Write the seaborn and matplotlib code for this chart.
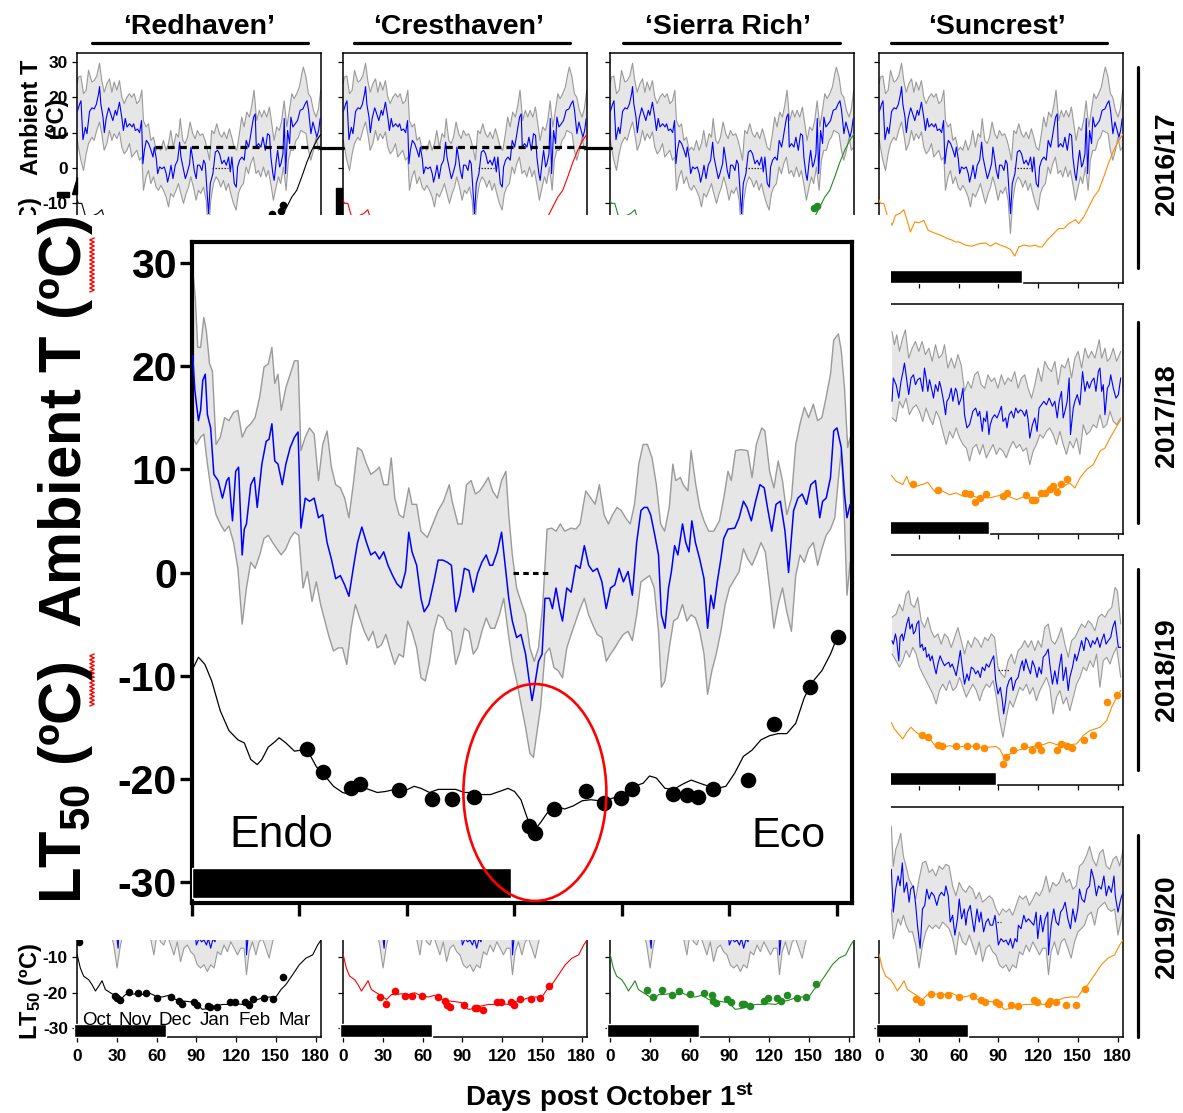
import numpy as np
import pandas as pd
import matplotlib
matplotlib.use("Agg")
import matplotlib.pyplot as plt
import seaborn as sns
from matplotlib.patches import Rectangle, Ellipse, Polygon
from matplotlib.lines import Line2D

# ============================ DATA ============================
# ---- 2016/17 ambient temperature (same site for all cultivars) ----
T16_MEAN_DAY = [0.3, 1.9, 3.0, 4.5, 6.3, 7.5, 9.5, 11.3, 13.0, 14.6, 16.3,
                17.0, 18.0, 19.6, 20.6, 22.0, 23.9, 25.0, 27.0, 28.9, 30.0,
                32.0, 33.9, 35.0, 36.4, 37.7, 39.7, 41.5, 42.7, 44.0, 45.7,
                47.2, 48.7, 49.7, 50.8, 52.3, 54.0, 55.8, 57.3, 58.3, 59.8,
                60.8, 62.3, 64.0, 65.8, 67.3, 68.3, 69.8, 70.9, 72.4, 74.1,
                75.9, 77.4, 78.4, 79.9, 81.7, 82.9, 84.9, 85.9, 87.4, 88.4,
                89.9, 90.9, 92.5, 94.2, 95.5, 96.7, 98.0, 99.2, 100.5, 102.5,
                104.3, 106.0, 107.5, 109.3, 111.0, 112.6, 114.3, 115.6, 116.8, 118.6,
                120.1, 121.1, 122.6, 124.4, 126.1, 127.6, 129.4, 130.7, 131.9, 133.2,
                134.4, 135.2, 136.9, 138.7, 140.2, 142.0, 143.7, 145.2, 146.2, 147.7,
                148.7, 150.3, 151.3, 152.8, 153.8, 155.3, 156.3, 157.3, 158.8, 160.3,
                161.3, 162.8, 164.6, 166.3, 168.3, 170.4, 172.1, 173.4, 174.6, 176.4,
                177.9, 179.6, 180.9, 182.2, 183.4]
T16_MEAN = [16, 18, 19, 8, 11.5, 9.7, 16, 17, 16.7, 18, 21,
            23, 18, 14.4, 10, 14, 17, 15.8, 13.4, 16.3, 14.9,
            18.6, 14, 10.6, 14, 11.6, 12.5, 11.6, 12.5, 10.6, 11,
            10, 13.4, 1.2, 5, 7.8, 6.9, 5, 3.1, 5.9, 2.6,
            -1.6, 0.3, -0.2, 0.3, -1.6, -4, -1.6, 0.8, -3, 0.8,
            2.2, 7.3, 3.1, 0.3, -3, -1.6, 1.2, 5.9, 2.2, -0.7,
            -3, 0.8, 0.8, -0.7, 2.2, 1.2, -6.3, -12.9, -4.4, -1.6,
            4.5, 5, 4, 1.2, 2.2, 0.8, 3.1, -1.1, 3.1, -4.4,
            -5.4, 0.3, 2.2, 3.1, 2.2, 7.8, 5.9, 8.7, 11.6, 14.4,
            15.3, 5.9, 6.9, 5.9, 8.7, 5, 9.7, 9.2, 3.1, -1.6,
            -3.5, 2.2, 5, 0.3, 1.2, 4, 14, -1.6, 10.6, 6.9,
            14.4, 11.6, 12.5, 13.4, 16.3, 16.7, 18.2, 19, 16.3, 9.7,
            13, 10.6, 8.7, 10.6, 14]
T16_UP_DAY = [0.2, 1.1, 2.9, 4.9, 6.9, 8.7, 11.2, 12.9, 14.9, 17.0, 18.7,
              20.5, 22.5, 24.5, 26.3, 28.0, 30.0, 32.0, 33.8, 35.6, 37.6,
              39.6, 41.3, 43.1, 45.1, 47.1, 48.9, 50.1, 52.1, 53.9, 55.7,
              57.7, 59.7, 61.4, 63.2, 65.2, 67.2, 69.0, 70.7, 72.7, 74.7,
              76.5, 77.8, 79.8, 81.5, 83.3, 85.3, 87.3, 89.1, 90.8, 92.8,
              94.8, 96.6, 98.4, 99.9, 101.6, 103.4, 105.4, 107.4, 109.2, 110.9,
              112.9, 114.9, 116.7, 118.5, 120.5, 122.5, 124.2, 126.0, 128.0, 130.0,
              131.8, 133.5, 135.5, 137.5, 139.3, 141.1, 143.1, 145.1, 146.9, 148.6,
              150.6, 152.6, 154.4, 156.2, 158.2, 160.2, 162.0, 163.7, 165.7, 167.7,
              169.5, 170.7, 172.7, 174.5, 176.3, 178.3, 180.3, 182.0, 183.8]
T16_UP = [24, 25.7, 26, 21, 22, 27.6, 24.3, 24.7, 26, 29.6, 24.7,
          21.4, 23.8, 25.2, 21.4, 24.3, 22, 24.7, 20, 18.2, 20,
          21, 20, 21, 18.2, 19, 22, 13.4, 11.6, 12.5, 7.8,
          8.7, 5, 5.9, 5, 7.8, 5, 6.9, 10.6, 5.9, 9.7,
          8.7, 14, 7.8, 6.9, 8.7, 13, 9.7, 8.3, 10.6, 9.2,
          9.7, 7.8, 5, 2.2, 10.6, 9.7, 12.5, 9.7, 8.7, 10.2,
          8.3, 11.1, 8.7, 5.9, 5, 9.7, 14.4, 11.6, 15.8, 14.4,
          17.7, 22, 13.4, 16.3, 14.4, 16.3, 14.4, 17.2, 12.5, 7.8,
          11.6, 10.6, 13.4, 19, 11.6, 16.3, 21, 19.6, 21, 22.9,
          26.6, 28.5, 25.7, 21, 20, 16.3, 14.4, 16.7, 22]
T16_LO_DAY = [0.2, 1.1, 2.9, 4.9, 6.9, 8.7, 11.2, 12.9, 14.9, 17.0, 18.7,
              20.5, 22.5, 24.5, 26.3, 28.0, 30.0, 32.0, 33.8, 35.6, 37.6,
              39.6, 41.3, 43.1, 45.1, 47.1, 48.9, 50.1, 52.1, 53.9, 55.7,
              57.7, 59.7, 61.4, 63.2, 65.2, 67.2, 69.0, 70.7, 72.7, 74.7,
              76.5, 78.3, 80.3, 82.3, 84.1, 85.8, 87.8, 89.8, 91.6, 93.3,
              95.4, 97.4, 99.1, 100.9, 102.9, 104.9, 106.7, 108.4, 110.4, 112.4,
              114.2, 115.9, 118.0, 120.0, 121.7, 123.5, 125.5, 127.5, 129.3, 131.0,
              133.0, 135.0, 136.8, 138.6, 140.6, 142.6, 144.3, 146.1, 148.1, 150.1,
              151.9, 153.6, 155.7, 157.7, 159.4, 161.2, 163.2, 165.2, 167.0, 168.7,
              170.7, 172.7, 174.5, 176.3, 178.3, 180.3, 182.0, 183.8]
T16_LO = [8, 5.9, 2.2, -0.7, 4, 6.9, 8.7, 7.8, 10.6, 13, 9.7,
          5, 6.9, 10.6, 7.8, 9.7, 8.3, 10.2, 5.9, 4, 5,
          6.9, 3.1, 4, 5, 2.2, 3.1, -6.3, -2.5, -0.7, -4.4,
          -2.5, -5.4, -6.3, -4.9, -6.3, -8.2, -11, -7.2, -8.2, -6.3,
          -4.4, -7.2, -10, -7.2, -5.4, -2.5, -5.4, -9.1, -6.3, -7.2,
          -5.4, -9.1, -18.5, -9.1, -4.4, -2.5, -3.5, -5.4, -3.5, -6.3,
          -4.4, -7.2, -10, -11.9, -7.2, -5.4, -4.4, 0.3, -1.6, 1.2,
          3.1, -1.6, -0.7, -2.5, 0.3, -2.5, -0.7, -4.4, -9.1, -5.4,
          -2.5, -4.4, 0.3, -6.3, 2.2, 5, 5, 7.8, 8.7, 10.6,
          10.2, 9.7, 5, 2.2, 5, 8.7, 5, 5.9]

# ---- 2017/18 ambient temperature ----
T17_MEAN_DAY = [9.8, 10.8, 12.9, 14.9, 16.6, 17.9, 19.2, 20.4, 22.4, 24.2,
                26.0, 27.5, 29.2, 31.0, 33.0, 34.3, 35.5, 36.8, 38.1, 40.1,
                41.1, 42.6, 44.4, 45.6, 46.9, 48.7, 50.2, 51.2, 52.7, 54.5,
                55.7, 57.7, 58.7, 60.2, 62.0, 63.3, 64.5, 66.3, 68.3, 69.6,
                70.8, 72.9, 74.6, 75.9, 77.9, 78.9, 80.4, 81.4, 82.9, 83.9,
                85.5, 87.2, 89.0, 90.5, 92.3, 93.5, 95.5, 96.5, 98.1, 99.8,
                101.6, 103.1, 104.9, 106.6, 108.1, 109.9, 111.2, 112.4, 113.7, 115.7,
                117.5, 119.2, 120.7, 122.5, 124.3, 126.3, 128.3, 129.3, 130.8, 132.6,
                134.4, 135.9, 137.6, 138.9, 140.2, 141.9, 143.4, 144.4, 146.5, 147.7,
                149.5, 151.5, 153.5, 155.3, 157.0, 158.6, 160.3, 162.1, 163.6, 165.4,
                166.6, 167.9, 169.1, 170.4, 172.2, 173.7, 174.7, 176.7, 178.7, 180.5,
                182.3]
T17_MEAN = [5, 11.6, 9.7, 5.9, 10.6, 13, 15.8, 12.5, 6.9, 11.6,
            12.5, 9.7, 11.1, 11.6, 7.8, 14.4, 11.6, 7.8, 11.1, 7.8,
            5.9, 9.7, 7.8, 10.6, 8.7, 5, 1.2, 5, 5.9, 8.7,
            5, 8.7, 7.8, 4, 5.9, 8.7, 1.2, -2.5, -1.6, 0.3,
            2.2, 3.1, 0.8, 2.2, -3.5, 0.3, -0.7, 2.2, -4.4, -1.6,
            0.3, 1.2, 0.3, 1.7, 3.6, -0.7, 0.3, -2.5, 1.2, 2.2,
            0.3, 3.1, 1.7, 2.6, 2.2, 0.8, 2.6, -0.2, -5.4, -1.6,
            0.3, -3.5, 3.1, 4, 5, 4, 5.9, 5, 3.6, 5,
            0.3, 5, 7.8, 0.3, 2.2, 5, 11.6, -4.4, 3.1, 5,
            6.9, 4, 13.4, 7.8, 10.6, 8.7, 10.6, 11.6, 7.8, 13.4,
            14.4, 7.8, 9.7, 1.2, 8.7, 9.7, 12.5, 8.7, 5.9, 6.9,
            11.6]
T17_UP_DAY = [9.8, 11.6, 13.4, 15.4, 17.9, 19.9, 22.4, 25.0, 27.5, 30.0,
              32.5, 35.0, 37.6, 40.1, 42.6, 45.1, 47.6, 49.4, 51.9, 54.5,
              57.0, 59.5, 62.0, 64.5, 67.1, 69.6, 72.1, 74.6, 77.1, 79.7,
              82.2, 84.7, 87.2, 89.7, 92.3, 94.8, 97.3, 99.8, 102.3, 104.9,
              107.4, 109.9, 112.4, 115.0, 117.5, 120.0, 122.5, 125.0, 127.6, 130.1,
              132.6, 135.1, 137.6, 140.2, 142.7, 145.2, 147.7, 150.2, 152.8, 155.3,
              157.8, 160.3, 162.8, 166.1, 167.9, 170.4, 172.2, 174.2, 176.7, 179.2,
              182.3]
T17_UP = [24.7, 21, 23.8, 19.1, 22.9, 25.2, 17.2, 20, 21.9, 19.1,
          21.9, 18.2, 20, 16.3, 21, 17.2, 18.2, 21, 14.4, 17.2,
          14.4, 18.2, 15.3, 7.8, 10.6, 8.7, 12.5, 13.4, 9.7, 8.7,
          12.5, 10.6, 11.6, 8.7, 12.5, 9.7, 11.6, 10.6, 13.4, 8.7,
          11.6, 12.5, 8.7, 5.9, 9.7, 14.4, 10.6, 16.3, 14.4, 13.4,
          16.3, 9.7, 15.3, 14.4, 17.2, 11.6, 17.2, 19.1, 14.4, 20,
          17.2, 19.1, 17.2, 22.4, 17.2, 20, 16.3, 17.2, 20, 16.3,
          19.1]
# shared day grid of the 2017/18 and 2018/19 lower envelopes
REG_DAY = [9.8, 12.9, 15.4, 17.9, 20.4, 22.9, 25.5, 28.0, 30.5, 33.0,
           35.5, 38.1, 40.6, 43.1, 45.6, 48.1, 50.7, 53.2, 55.7, 58.2,
           60.8, 63.3, 65.8, 68.3, 70.8, 73.4, 75.9, 78.4, 80.9, 83.4,
           86.0, 88.5, 91.0, 93.5, 96.0, 98.6, 101.1, 103.6, 106.1, 108.6,
           111.2, 113.7, 116.2, 118.7, 121.3, 123.8, 126.3, 128.8, 131.3, 133.9,
           136.4, 138.9, 141.4, 143.9, 146.5, 149.0, 151.5, 154.0, 156.5, 159.1,
           161.6, 164.1, 166.6, 169.1, 171.7, 174.2, 176.7, 179.2, 182.3]
T17_LO = [0.3, -0.7, 5, 3.1, 5.9, 1.2, 3.1, 4, 2.2, -0.7,
          3.1, 0.3, -1.6, 2.2, 0.3, -3.5, -7.2, -3.5, -5.4, -2.5,
          -5.4, -7.2, -8.2, -11.9, -8.2, -7.2, -10, -7.2, -11, -9.1,
          -7.2, -10, -8.2, -9.1, -11, -8.2, -6.3, -8.2, -7.2, -9.1,
          -8.2, -12.9, -9.1, -7.2, -4.4, -5.4, -3.5, -2.5, -4.4, -7.2,
          -3.5, -7.2, -10, -6.3, -8.2, -5.4, -10, -1.6, -4.4, -3.5,
          -1.6, -2.5, 1.2, -2.5, -1.6, 2.2, -0.7, -1.6, 0.3]

# ---- 2018/19 ambient temperature ----
T18_MEAN_DAY = [9.8, 10.8, 12.4, 13.4, 14.9, 15.9, 17.4, 18.4, 19.9, 20.9,
                22.4, 23.4, 25.0, 26.0, 27.5, 28.5, 30.0, 31.0, 32.5, 33.5,
                35.0, 36.0, 37.6, 38.6, 40.1, 41.8, 43.1, 44.4, 46.1, 47.6,
                49.4, 50.7, 52.7, 53.7, 55.2, 57.0, 58.2, 59.5, 61.3, 62.8,
                64.5, 66.3, 67.8, 69.6, 71.3, 72.9, 74.6, 76.4, 77.9, 79.7,
                80.9, 82.9, 84.7, 86.5, 88.0, 89.7, 91.5, 93.0, 94.0, 95.5,
                96.5, 98.1, 99.8, 101.1, 103.1, 104.9, 106.6, 108.1, 109.2, 110.7,
                112.4, 114.2, 115.7, 117.5, 119.2, 120.7, 122.5, 123.8, 125.8, 127.6,
                128.8, 130.8, 132.6, 134.4, 135.9, 137.6, 138.9, 140.9, 142.7, 143.9,
                145.9, 147.7, 149.0, 151.0, 152.8, 154.5, 156.0, 157.8, 159.6, 161.1,
                162.8, 164.6, 166.6, 167.9, 169.7, 171.2, 172.9, 174.7, 176.2, 178.0,
                179.2, 180.5, 182.3]
T18_MEAN = [8.3, 7.3, 10.2, 8.3, 2.6, 9.2, 10.2, 8.3, 11.1, 13,
            14.9, 11.6, 13, 10.2, 11.1, 13, 13.9, 6.4, 7.3, 5.5,
            6.4, 3.6, 4.5, 2.6, 4, 0.8, -1.1, 1.7, 4, 2.6,
            1.2, 1.7, 2.2, 0.8, 1.7, -0.2, -1.6, 1.2, 5.5, 0.8,
            -4, -1.1, -3, 0.8, 0.3, -1.1, -0.2, -2.1, 0.8, -0.2,
            1.7, 0.8, 2.6, 4, -3, -6.8, -4.9, -8.7, -12.4, -8.7,
            -4.9, -3, -2.1, -5.8, -3, -2.1, 0.8, 2.6, -0.2, 3.1,
            0.8, -1.1, 2.6, 0.8, -2.1, 0.8, -1.1, 3.6, 4.5, 5.9,
            1.7, -4, -0.2, -4, 0.8, 4.5, -3, 0.8, -5.8, -2.1,
            0.8, 4.5, 2.6, 5.5, 8.3, 5.5, 9.2, 8.3, 6.4, 8.3,
            7.3, 9.2, 6.4, 8.3, 10.2, 7.3, 8.3, 9.2, 12, 13.9,
            10.2, 6.4, 6.4]
T18_UP_DAY = [9.8, 12.9, 15.4, 17.9, 20.4, 22.4, 24.2, 26.7, 29.2, 31.8,
              34.3, 36.8, 39.3, 41.8, 44.4, 46.9, 49.4, 51.9, 54.5, 57.0,
              59.5, 62.0, 64.5, 67.1, 69.6, 72.1, 74.6, 77.1, 79.7, 82.2,
              84.7, 87.2, 89.7, 92.3, 94.8, 97.3, 99.8, 102.3, 104.9, 107.4,
              109.9, 112.4, 115.0, 117.5, 120.0, 122.5, 125.0, 127.6, 130.1, 132.6,
              135.1, 137.6, 140.2, 142.7, 145.2, 147.7, 150.2, 152.8, 155.3, 157.8,
              160.3, 162.8, 165.4, 167.9, 170.4, 172.9, 175.5, 178.0, 179.8, 182.3]
T18_UP = [14.9, 15.8, 18.6, 16.7, 21.4, 22.4, 18.6, 17.7, 20.5, 13.9,
          12, 14.9, 11.1, 9.2, 10.2, 7.3, 10.2, 9.2, 6.4, 9.2,
          12, 8.3, 4.5, 8.3, 6.4, 9.2, 8.3, 6.4, 9.2, 8.3,
          10.2, 9.2, 0.8, -1.1, -2.1, 2.6, 4.5, 1.7, 5.5, 6.4,
          8.3, 6.4, 8.3, 5.5, 8.3, 6.4, 12, 13, 8.3, 7.3,
          9.2, 12, 7.3, 3.6, 8.3, 9.2, 11.1, 13, 12, 13.9,
          13, 11.1, 14.9, 15.8, 14.9, 16.7, 17.7, 23.3, 22.4, 13]
T18_LO = [4.5, 2.6, 0.8, 2.6, 5.5, 3.6, 6.4, 4.5, 0.8, -1.1,
          -3, -4.9, -6.8, -9.6, -5.8, -4, -5.8, -3, -5.8, -4.9,
          -2.1, -4.9, -7.7, -5.8, -4, -5.8, -8.7, -5.8, -4, -4.9,
          -3, -7.7, -14.3, -19, -13.4, -8.7, -10.5, -7.7, -4.9, -5.8,
          -4, -6.8, -4.9, -8.7, -5.8, -4, -2.1, -4.9, -12.4, -7.7,
          -5.8, -9.6, -7.7, -11.5, -7.7, -4, -2.1, 0.8, -0.2, 2.6,
          0.8, 4.5, -4.9, 2.6, 3.6, 1.7, 4.5, 6.4, -2.1]

# ---- 2019/20 ambient temperature ----
T19_MEAN_DAY = [9.3, 10.8, 12.6, 14.4, 15.9, 17.6, 18.9, 20.9, 22.7, 23.9,
                26.0, 27.7, 29.0, 31.0, 32.8, 34.5, 36.0, 37.8, 39.6, 41.6,
                43.6, 45.4, 47.1, 49.2, 50.4, 52.2, 53.7, 55.5, 57.2, 59.2,
                60.5, 62.3, 64.3, 65.5, 66.8, 68.8, 70.6, 71.8, 73.9, 75.6,
                76.9, 78.9, 80.7, 82.4, 83.9, 85.7, 87.5, 89.0, 90.0, 92.0,
                94.0, 95.8, 97.6, 99.1, 100.8, 102.6, 104.1, 105.1, 107.1, 109.2,
                110.9, 112.7, 114.7, 116.7, 118.5, 119.7, 121.8, 123.5, 125.3, 127.3,
                127.8, 129.8, 131.8, 133.6, 135.4, 136.9, 138.6, 140.4, 142.4, 144.4,
                146.2, 148.0, 149.9, 151.2, 152.9, 154.9, 156.8, 158.8, 160.1, 162.1,
                163.9, 165.6, 167.6, 169.6, 171.4, 173.2, 175.2, 177.2, 178.2, 180.2,
                182.3, 184.0]
T19_MEAN = [14.9, 2.8, 9.3, 13, 10.2, 16.7, 8.4, 11.2, 5.6, 9.3,
            10.2, 4.7, -0.9, -7.4, 3.7, 4.7, 9.3, 6.5, 8.4, 7.4,
            4.7, 7.4, 8.4, 7.4, 10.2, 7.4, 0, 1.9, -3.7, 0.9,
            6.5, 0.9, 3.7, -0.9, 2.8, 4.7, 0, -2.8, 3.7, 0,
            2.8, -2.8, 0, 0.9, -0.9, -0.9, 1.9, -2.8, -6.5, -4.7,
            -5.6, -5.1, -6.5, -4.7, -7.4, -4.7, -5.6, -0.9, -1.9, 1.9,
            0, 0.9, 0, -0.9, 2.8, -4.7, 1.9, -2.8, 0.9, 2.8,
            -9.3, -0.9, 3.7, 0, -0.9, 2.8, 3.7, 5.6, 0.9, -1.9,
            3.7, 0, 3.7, 9.3, 6.5, 5.6, 9.3, 10.2, 14.9, 12.1,
            7.4, 10.2, 9.3, 13, 7.4, 10.2, 8.4, 13, 7.4, 2.8,
            6.5, 8.4]
T19_UP_DAY = [9.3, 10.8, 12.6, 14.4, 16.4, 18.4, 20.4, 22.7,
              25.2, 27.7, 30.2, 32.8, 35.3, 37.8, 40.3, 42.9, 45.4, 47.9,
              50.4, 52.9, 55.5, 58.0, 60.5, 63.0, 65.5, 68.1, 70.6, 73.1,
              75.6, 78.1, 80.7, 83.2, 85.7, 88.2, 90.7, 93.3, 95.8, 98.3,
              100.8, 103.4, 105.9, 108.4, 110.9, 113.4, 116.0, 118.5, 121.0, 123.5,
              126.0, 128.6, 131.1, 133.6, 136.1, 138.6, 141.2, 143.7, 146.2, 148.7,
              151.2, 153.8, 156.3, 158.8, 161.3, 163.9, 166.4, 168.9, 171.4, 173.9,
              176.5, 179.0, 181.5, 184.0]
T19_UP = [27, 15.8, 20.5, 22.3, 25.1, 18.6, 15.8, 12.1,
          10.2, 6.5, 12.1, 16.7, 17.2, 14, 14.9, 13, 15.8, 14.9,
          16.3, 15.8, 10.2, 7.4, 11.2, 9.3, 8.4, 10.2, 9.3, 6.5,
          8.4, 5.6, 6.5, 7.4, 6.5, 3.7, 1.9, 3.7, 2.8, 3.7,
          1.9, 4.7, 7.4, 6.5, 7.4, 4.7, 6.5, 8.4, 7.4, 9.3,
          13, 8.4, 11.2, 10.2, 11.2, 14, 11.2, 12.1, 9.3, 10.2,
          15.8, 16.7, 18.6, 21.4, 17.7, 15.8, 19.5, 20.5, 15.8, 14.9,
          17.7, 18.6, 15.8, 20.5]
T19_LO_DAY = [9.3, 10.8, 12.6, 14.4, 16.4, 18.4, 20.4, 22.7,
              25.2, 27.7, 30.2, 32.8, 35.3, 37.8, 40.3, 42.9, 45.4, 47.9,
              50.4, 52.9, 55.5, 58.0, 60.5, 63.0, 65.5, 68.1, 70.6, 73.1,
              75.6, 78.1, 80.7, 83.2, 85.7, 88.2, 90.7, 93.3, 95.8, 98.3,
              100.8, 103.4, 105.9, 108.4, 110.9, 113.4, 116.0, 118.5, 121.0, 123.5,
              126.0, 127.8, 129.8, 132.3, 134.9, 137.4, 139.9, 142.4, 144.9, 147.5,
              150.0, 152.5, 155.0, 157.5, 160.1, 162.6, 165.1, 167.6, 170.2, 172.7,
              175.2, 177.7, 180.2, 182.8, 184.0]
T19_LO = [3.7, -4.7, -1.9, 0.9, -0.9, 1.9, -0.9, -2.8,
          -2.8, -6.5, -13, -6.5, -2.8, -0.9, -1.9, -0.9, -1.9, 0,
          -0.9, -1.9, -4.7, -9.3, -2.8, -5.6, -6.5, -3.7, -6.5, -9.3,
          -5.6, -11.2, -7.4, -6.5, -8.4, -9.3, -12.1, -13, -12.1, -14,
          -12.1, -13, -8.4, -9.3, -6.5, -8.4, -5.6, -7.4, -9.3, -7.4,
          -7.4, -14.9, -8.4, -5.6, -9.3, -5.6, -4.7, -7.4, -10.2, -5.6,
          -2.8, -1.9, -0.9, 1.9, 2.8, -0.9, 3.7, 4.7, 5.6, 3.7,
          3, 3.7, -3.7, 0.9, 2.8]

# ---- LT50 model lines (one per season, shared by the cultivars) ----
LT16_DAY = [0, 1.1, 3.6, 6.2, 9.9, 12.4, 15.5, 18.7, 21.2, 23.7,
            27.0, 30.0, 33.8, 37.1, 41.3, 46.4, 51.4, 55.2, 57.7, 60.2,
            65.2, 70.2, 75.3, 80.3, 84.1, 87.8, 91.6, 95.4, 99.1, 102.4,
            105.4, 109.2, 114.2, 118.0, 120.5, 123.0, 126.8, 131.8, 135.5, 139.3,
            143.1, 148.1, 150.6, 154.4, 158.2, 162.0, 165.7, 169.5, 173.2, 177.0,
            180.8, 183.8]
LT16 = [-9, -10, -10, -13.4, -16.2, -13.4, -12.9, -11.8, -14.8, -18.1,
        -15.2, -15.5, -14.8, -17.6, -18.3, -19, -19.9, -20.4, -20.9, -20.9,
        -21.8, -22.1, -21.4, -21.2, -22.1, -21.2, -21.8, -22.3, -23, -24.9,
        -22.3, -21.8, -22.1, -21.8, -22.3, -22.3, -20.4, -18.5, -17.1, -17.1,
        -15.7, -14.6, -15.7, -13.8, -11, -8.2, -6.3, -2.5, 1.5, 5,
        7.8, 9.5]
LT17_DAY = [9.3, 12.9, 17.9, 20.9, 22.9, 28.0, 33.0, 36.8, 40.6, 43.1,
            48.1, 53.2, 58.2, 63.3, 68.3, 73.4, 78.4, 83.4, 88.5, 93.5,
            98.6, 103.6, 108.6, 113.7, 118.7, 123.8, 128.8, 133.9, 138.9, 143.9,
            147.7, 151.5, 156.5, 161.6, 166.6, 170.4, 174.2, 179.2, 182.3]
LT17 = [-15.9, -17.6, -18.5, -16.2, -18.3, -19, -18.5, -17.9, -19.9, -20.9,
        -20.4, -21.4, -20.9, -21.8, -21.4, -22.1, -22.1, -22.3, -21.8, -21.4,
        -22, -22.8, -22.1, -22.3, -22.8, -21.2, -20.4, -19.9, -19, -18.1,
        -19.5, -16.7, -14.3, -12.9, -9.1, -8.2, -5.4, -2.1, -0.2]
LT18_DAY = [9.3, 11.6, 14.9, 17.9, 20.9, 24.2, 28.0, 31.8, 35.5, 39.3,
            43.1, 48.1, 53.2, 58.2, 63.3, 68.3, 73.4, 78.4, 83.4, 88.0,
            91.0, 93.5, 96.0, 98.6, 103.6, 108.6, 113.7, 118.7, 123.8, 128.8,
            133.9, 138.9, 143.9, 149.0, 154.0, 159.1, 166.6, 171.7, 175.5, 179.2,
            182.3]
LT18 = [-14.8, -16.7, -18.1, -19.5, -17.6, -16.2, -17.6, -18.5, -19, -19.9,
        -21.8, -21.8, -21.4, -21.8, -21.6, -21.4, -21.8, -21.8, -21.8, -21.6,
        -22.3, -24.2, -24.6, -23.7, -22.8, -22.3, -21.8, -21.4, -21.1, -20.4,
        -21.1, -20.4, -21.1, -20.9, -18.5, -17.1, -16.2, -14.3, -10.5, -7.7,
        -5.8]
LT19_DAY = [0, 2.5, 5.0, 8.8, 11.3, 13.9, 16.4, 18.9, 21.4,
            25.2, 29.0, 32.8, 36.6, 40.3, 44.1, 49.2, 54.2, 59.2, 64.3,
            69.3, 74.4, 79.4, 84.4, 89.5, 94.5, 99.6, 104.6, 109.7, 114.7,
            119.7, 124.8, 129.8, 134.9, 139.9, 144.9, 150.0, 153.8, 157.5, 162.6,
            167.6, 172.7, 177.7, 181.5, 184.0]
LT19 = [-9, -13, -15.3, -16.3, -17.7, -19.5, -18.1, -16.6, -19.1,
        -20, -20.9, -21.9, -20.5, -20.5, -20.3, -20.5, -20, -20.9, -21.2,
        -20.7, -21.9, -22.3, -22.5, -22.8, -24.7, -24.4, -23.7, -23.3, -23.3,
        -23.1, -23.3, -22.5, -22.1, -21.4, -21.2, -21.2, -19.1, -17.7, -14.9,
        -12.1, -10.2, -9.3, -6.5, -5.1]

# ---- measured LT50 (dots) ----
RH16_DAY, RH16 = [147, 154, 155.5], [-13, -12.1, -10.4]
SR16_DAY, SR16 = [154, 156.4], [-11.3, -10.7]
SC17_DAY = [26, 44.4, 65, 68.3, 72.1, 75.9, 80.9, 93.5, 96.5, 111.2,
            115, 117.5, 121.8, 125, 128.8, 131.3, 134.6, 137.6, 141.9]
SC17 = [-18.5, -20.2, -20.9, -21.2, -23.4, -22.3, -21.2, -21.8, -20.9, -21.4,
        -22.8, -22.8, -20.9, -20.8, -19.8, -19, -20.6, -18.3, -16.9]
SC18_DAY = [32.5, 36.8, 44.4, 47.6, 57.7, 66.6, 72.9, 78.9, 93.5, 96, 101.1,
            109.4, 115, 120, 122.5, 133.9, 137.6, 141.4, 145.2, 154.8, 161.6,
            171.7, 179.7]
SC18 = [-18.3, -19, -21.1, -21.5, -21.4, -21.5, -21.4, -22, -26.5, -24.5, -22.5,
        -21.4, -22.6, -21.3, -22.6, -22.5, -20.9, -21.4, -22, -19.8, -18.3,
        -9.1, -7.2]
RH19_DAY = [1.4, 28.3, 29.8, 32.4, 39, 45.7, 52, 60.1, 70.8, 77.2, 79.5, 88.2,
            90.5, 99.1, 100.6, 105.5, 115.6, 119, 126.6, 129.5, 133, 141, 148, 155.2]
RH19 = [-5.7, -20.9, -21.6, -22.1, -19.7, -20.1, -20.1, -21.6, -21.1, -22.3, -23.2, -22.5,
        -23.5, -23.8, -24, -24, -22.5, -22.6, -22.5, -23.5, -21.8, -21.5, -21.7, -15.5]
CH19_DAY = [28.1, 32.4, 39, 46.4, 52.3, 59.9, 71.4, 77, 78.6, 80.4, 91.1,
            99.5, 101.3, 105.4, 116.1, 119.4, 127, 129.1, 133.2, 141.6, 148.5, 155.1]
CH19 = [-21.3, -23.3, -19.4, -20.9, -20.9, -20.9, -21.3, -22.2, -23.5, -24, -23.5,
        -24.2, -24.2, -24.9, -22.6, -22.7, -22.6, -23.4, -21.9, -21.9, -21.6, -18.2]
SR19_DAY = [28.2, 32.6, 38.9, 46.6, 52.2, 60, 71.2, 77.1, 77.9, 79.9, 88, 91.1,
            99.2, 101.3, 105.3, 116, 119.1, 126.2, 128.8, 133.1, 141, 147.8, 155]
SR19 = [-19.3, -21.1, -19.3, -20.7, -19.4, -20.3, -20, -20.5, -22.4, -22.9, -21.8, -22.6,
        -23.3, -23.1, -23.8, -22.2, -21.6, -21.4, -22.2, -20.5, -21.5, -21.1, -17.5]
SC19_DAY = [27.7, 32, 39.1, 46.1, 52.2, 60.5, 71.1, 76.9, 79.9, 88.2, 90.7,
            99.6, 105.1, 116.7, 119.2, 127.3, 129.1, 133.1, 141.2, 148.2, 155.3]
SC19 = [-21.9, -22.6, -20.3, -20.6, -20.7, -21.1, -21, -22.1, -22.7, -22.5, -23.3,
        -23.4, -23.7, -22.1, -22.5, -23.1, -22.3, -22.5, -23.4, -23.4, -18.8]

# ---- endodormancy bar (last day) ----
BAR_END = {'2016/17': 108, '2017/18': 83, '2018/19': 88, '2019/20': 67}

# ---- enlarged panel (inset) ----
INS_MEAN_DAY = [0.2, 0.8, 1.8, 2.4, 3.0, 3.7, 4.3, 5.2, 6.1, 7.3,
                8.5, 9.7, 10.3, 11.3, 12.2, 13.0, 14.0, 14.6, 15.2, 16.4,
                17.4, 18.2, 19.5, 20.7, 21.5, 22.3, 23.1, 24.0, 25.2, 26.2,
                27.4, 28.6, 29.6, 30.4, 31.6, 32.8, 34.1, 35.3, 36.5, 37.7,
                38.9, 40.1, 41.4, 42.6, 43.8, 45.0, 46.2, 47.4, 48.7, 49.9,
                51.1, 52.3, 53.5, 54.7, 56.0, 57.2, 58.4, 59.6, 60.5, 61.4,
                62.7, 63.9, 64.8, 66.1, 67.5, 68.7, 70.0, 71.2, 72.4, 73.6,
                74.8, 76.0, 77.3, 78.5, 79.7, 80.9, 82.1, 83.1, 83.9, 85.2,
                86.4, 87.6, 88.4, 89.4, 90.6, 91.8, 93.1, 94.0, 94.9, 95.7,
                96.7, 97.7, 98.5, 99.8, 100.6, 101.6, 102.6, 103.4, 104.6, 105.8,
                107.1, 108.3, 109.5, 110.7, 111.9, 113.1, 114.4, 115.6, 116.8, 118.0,
                119.2, 120.4, 121.7, 122.9, 124.1, 125.3, 126.2, 127.1, 128.0, 129.0,
                130.2, 131.0, 132.0, 133.0, 133.8, 134.7, 135.6, 136.9, 137.8, 138.7,
                139.5, 140.5, 141.7, 142.9, 143.9, 144.8, 145.6, 146.6, 147.6, 148.4,
                149.6, 151.5, 152.7, 153.9, 154.9, 156.1, 157.3, 158.5, 159.7, 160.6,
                161.8, 163.0, 164.2, 165.5, 166.5, 167.9, 169.1, 170.3, 171.5, 172.7,
                174.0, 175.2, 176.0, 177.0, 178.2, 179.1, 180.0, 181.2, 182.1, 182.8,
                183.7]
INS_MEAN = [21, 17.6, 14.7, 15.7, 18.6, 19.2, 15.3, 14, 9.5, 8.9,
            7.2, 8.9, 9.2, 5, 9.8, 10.2, 1.7, 4.2, 4.7, 8.5,
            9.2, 6.3, 10.5, 12.7, 12.9, 14.4, 10.8, 10.5, 8.5, 10.5,
            12.1, 13.1, 13.6, 4.3, 7.2, 6.9, 7.2, 5.3, 5.6, 2.9,
            1.3, -0.6, -0.3, -1.2, -2.3, 0.4, 2.9, 4.4, 2.9, 1.7,
            2, 1.3, 2, 0.7, -0.3, -1.1, -1.5, 0.1, 3.9, 2,
            0.7, -2.5, -3.8, -3.1, -0.9, 1.2, 1.2, 1, 0.7, -3.8,
            -2.2, 0.4, 0.2, -1.9, -0.1, 1, 1.7, 0.7, 0.7, 2,
            3.9, 0.1, -2.5, -4.7, -6.3, -6, -7.9, -10.2, -12.4, -10.8,
            -8.6, -7.9, -2.5, -2.5, -3.5, -1.5, -3.5, -4.7, -1.5, -1.9,
            0.7, 0.4, 2.6, 0.7, 0.1, 0.4, -0.9, -3.5, -1.5, -1.2,
            0.4, -0.9, 0.1, -2.2, 2.9, 6, 6.3, 6.3, 5.6, 3.9,
            1.7, -4.1, -5.4, -1.5, 0.1, 2.6, 1.7, 4.7, 2.9, 2,
            5, 2.9, 1.3, -0.6, -5.4, -2.2, -3.5, -0.9, 1.3, 3.3,
            4.2, 4.3, 5.3, 6.9, 6.3, 5, 6.9, 8.5, 8.2, 6.3,
            4, 6.6, 6.9, 4, 0, 6, 7.2, 7.6, 6.6, 8.5,
            8.9, 5.3, 6.9, 7.2, 9.2, 13.7, 14, 12.1, 7.6, 5.3,
            6.6]
INS_UP_DAY = [0.2, 0.9, 1.6, 2.4, 3.3, 4.0, 4.9, 5.7, 6.7, 7.9,
              9.1, 10.3, 11.6, 12.8, 14.0, 15.2, 16.4, 17.6, 18.9, 20.1,
              21.3, 22.3, 23.1, 24.0, 24.9, 26.2, 27.4, 28.6, 29.6, 30.4,
              31.6, 32.8, 34.1, 35.3, 36.5, 37.7, 38.9, 40.1, 41.4, 42.6,
              43.8, 45.0, 46.2, 47.4, 48.7, 49.9, 51.1, 52.3, 53.5, 54.7,
              55.6, 56.6, 57.8, 59.0, 60.5, 61.4, 62.7, 63.9, 65.7, 68.7,
              70.2, 71.8, 72.6, 74.2, 75.4, 76.6, 77.9, 79.1, 80.3, 81.5,
              82.7, 83.9, 85.2, 86.4, 87.6, 88.4, 89.4, 90.6, 91.8, 93.1,
              94.3, 95.5, 96.7, 97.9, 99.1, 100.4, 101.6, 102.8, 104.0, 105.8,
              107.1, 108.3, 109.9, 111.3, 112.5, 113.7, 115.0, 116.2, 117.4, 118.6,
              119.8, 121.0, 122.3, 123.5, 124.7, 125.9, 127.1, 128.4, 129.6, 130.8,
              131.9, 133.2, 134.2, 135.0, 136.3, 137.1, 138.4, 139.3, 140.6, 141.7,
              142.9, 144.2, 145.6, 147.2, 148.4, 149.6, 150.5, 151.7, 153.3, 155.1,
              156.3, 157.5, 159.0, 159.9, 161.2, 162.4, 163.6, 164.8, 166.0, 167.3,
              168.5, 169.7, 170.9, 172.1, 173.4, 174.6, 175.8, 177.0, 178.2, 179.1,
              180.4, 181.2, 182.1, 183.0, 183.7]
INS_UP = [29.3, 26.7, 21.8, 21.8, 24.7, 23.4, 20.2, 19.5, 12.4, 13.1,
          15, 14.7, 15.5, 15.7, 13.1, 14, 14.4, 15, 17, 19.9,
          20.2, 21.8, 18.3, 19.2, 15.7, 17.9, 19.2, 20.5, 20.5, 11.8,
          13.1, 14, 13.4, 8.9, 12.4, 13.7, 10.2, 8.5, 8.2, 7.2,
          5.3, 8.5, 12.1, 11.8, 10.5, 9.5, 9.8, 10.2, 8.5, 8.5,
          11.1, 7.2, 5.6, 5.3, 8.2, 6.6, 6.6, 4, 3.4, 6,
          6.9, 8.5, 6.9, 4.7, 4.7, 8.5, 8.9, 7.6, 7.9, 8.5,
          9.2, 7.9, 7.2, 8.9, 9.8, 5.6, 1.7, -1.5, -2.8, -4.1,
          -7.3, -8.6, -7.3, -3.1, 4.2, 4.3, 4, 4.7, 4, 4.3,
          4.2, 4.7, 7.9, 7.2, 6.6, 8.5, 5.6, 4.7, 5.6, 6.3,
          6, 5.3, 4.7, 6.6, 10.5, 12.4, 12.4, 11.1, 8.5, 4.7,
          4, 6.3, 10.5, 8.9, 9.2, 8.5, 7.9, 11.8, 8.5, 6.3,
          5, 4, 4, 5, 7.2, 9.8, 8.9, 11.8, 11.9, 11.8,
          9.2, 12.4, 14, 13.7, 9.8, 8.2, 10.8, 8.9, 5.6, 7.2,
          12.4, 14.4, 16, 15, 16.3, 14.7, 15, 17, 19.2, 22.5,
          23.1, 21.5, 17.9, 12.1, 13.1]
INS_LO_DAY = [0.2, 1.2, 2.4, 3.3, 4.3, 5.5, 6.7, 7.9, 9.1, 10.3,
              11.6, 12.8, 14.0, 15.2, 16.4, 17.6, 18.9, 20.1, 21.3, 22.5,
              23.7, 24.9, 26.2, 27.4, 28.6, 29.8, 31.0, 32.2, 33.5, 34.7,
              35.9, 37.1, 38.3, 39.5, 40.8, 42.0, 43.2, 44.4, 45.6, 46.8,
              48.1, 49.3, 50.5, 51.7, 52.9, 54.1, 55.4, 56.6, 57.8, 59.0,
              60.2, 61.4, 62.7, 63.9, 65.1, 66.3, 67.5, 68.7, 70.0, 71.2,
              72.4, 73.6, 74.8, 76.0, 77.3, 78.5, 79.7, 80.9, 82.1, 83.3,
              84.5, 85.8, 87.0, 88.2, 89.4, 90.6, 91.8, 93.1, 94.3, 95.3,
              96.1, 97.3, 98.5, 99.8, 101.0, 102.2, 103.4, 104.6, 105.8, 107.1,
              108.3, 109.5, 110.7, 111.9, 113.1, 114.4, 115.6, 116.8, 118.0, 119.2,
              120.4, 121.7, 122.9, 124.1, 125.3, 126.5, 127.7, 129.0, 130.2, 131.0,
              132.0, 133.2, 134.4, 135.6, 136.9, 138.1, 139.3, 140.5, 141.7, 142.9,
              143.9, 145.1, 146.3, 147.6, 148.8, 150.0, 151.5, 152.7, 153.9, 155.1,
              156.3, 157.5, 158.8, 160.0, 161.2, 162.4, 163.6, 164.8, 166.0, 167.3,
              168.5, 169.7, 170.9, 172.1, 173.4, 174.6, 175.8, 177.0, 178.2, 179.4,
              180.4, 181.2, 182.1, 182.8, 183.7]
INS_LO = [13.1, 12.4, 13.1, 13.4, 10.5, 7.6, 5.6, 4.7, 4, 4.5,
          2.9, 0.4, -5, -1.5, 1, 0.4, 1.7, 3.3, 3.6, 2.9,
          2.3, 1.7, 2.3, 3.3, 3.9, 3.6, -1.5, 0.1, -2.8, -0.9,
          -3.1, -4.7, -6.3, -7.6, -7.3, -7.3, -8.9, -5.4, -3.1, -4.4,
          -5.7, -6.6, -5.7, -7.3, -7, -6, -7.6, -8.9, -7.9, -8.2,
          -4.7, -5.7, -7.3, -10.2, -10.5, -8.6, -5.7, -4.1, -4.4, -5.4,
          -5.7, -8.9, -7.6, -5.4, -5.7, -7.9, -7.3, -5.7, -4.4, -5.4,
          -5.4, -4.1, -2.5, -5.7, -8.6, -10.5, -12.7, -15, -17.5, -17.9,
          -15.9, -13, -7.9, -7.3, -9.2, -9.5, -10.2, -7.3, -6, -4.7,
          -3.5, -2.5, -4.1, -5.1, -6, -6.3, -8.6, -7.9, -7.3, -6.6,
          -6, -5.7, -6.6, -4.1, -0.9, -0.6, -0.3, -1.5, -5.7, -11.1,
          -10.5, -7.3, -4.7, -4.4, -3.1, -4.7, -4.1, -4.4, -5.7, -7.9,
          -11.8, -9.5, -7.9, -5.7, -3.1, -1.5, -0.6, 0.1, 2.3, 1.3,
          0.7, 1.7, 2.9, 2, -1.5, -5.4, -3.1, -1.5, -3.8, -5.7,
          -0.3, 1.7, 1, 2.3, 2.9, 0.7, 2.3, 3.6, 4.2, 5.3,
          9, 11.8, 5, -2.2, 1]
INS_LT_DAY = [0, 1.8, 3.6, 5.5, 7.9, 10.3, 12.8, 14.6, 16.4, 18.2,
              19.5, 21.3, 23.1, 24.3, 26.2, 28.6, 30.4, 32.2, 34.7, 37.1,
              39.5, 42.0, 44.4, 46.8, 49.3, 51.7, 54.1, 56.6, 59.0, 62.0,
              63.9, 66.3, 68.7, 71.2, 73.6, 76.0, 78.5, 80.9, 83.3, 85.8,
              88.2, 90.0, 91.8, 93.1, 94.3, 95.7, 97.3, 99.1, 101.6, 104.0,
              106.4, 108.9, 111.3, 113.7, 116.2, 118.6, 121.0, 123.5, 125.9, 127.7,
              129.6, 132.0, 134.4, 136.9, 139.3, 141.7, 144.2, 146.6, 149.0, 151.5,
              153.9, 156.3, 158.8, 161.2, 163.6, 166.0, 168.5, 170.9, 173.4, 175.8,
              178.2, 180.0, 180.7]
INS_LT = [-9.5, -8.2, -8.9, -10.5, -13.4, -15.3, -16.2, -16.5, -18.1, -18.6,
          -18.1, -16.9, -16.4, -16, -16.5, -17.3, -17.2, -17.2, -18.8, -19.7,
          -20.7, -21.3, -21.5, -20.7, -21, -21.3, -21.2, -21, -21.2, -20.7,
          -20.9, -21.3, -21, -21, -21, -21.3, -21.3, -21.5, -21.5, -21.2,
          -20.9, -21.2, -22, -23.3, -24.5, -24.9, -24.2, -23.3, -22.6, -22.9,
          -22.6, -22.1, -22, -22.1, -22, -21.7, -21.3, -20.7, -20.4, -19.7,
          -19.9, -20.9, -21, -20.5, -20.1, -20.4, -20.7, -20.9, -20.7, -19.4,
          -17.8, -17.2, -16.2, -15.8, -15.6, -15.6, -14.6, -12.1, -10.5, -9.5,
          -7.9, -6.3, -6]
INS_DOT_DAY = [32.2, 36.5, 44.4, 46.8, 57.8, 66.9, 72.6, 78.7, 94, 95.7, 101,
               110.1, 115, 119.8, 122.9, 134.2, 138.1, 141.1, 145.4, 155.1,
               162.4, 172.4, 180.4]
INS_DOT = [-17.1, -19.3, -20.9, -20.5, -21.1, -21.9, -21.9, -21.7, -24.5, -25.2, -22.9,
           -21.2, -22.3, -21.8, -21, -21.4, -21.5, -21.7, -21, -20.1,
           -14.7, -11.1, -6.2]
INS_BAR_END = 89

CULTIVARS = ['Redhaven', 'Cresthaven', 'Sierra Rich', 'Suncrest']
SEASONS = ['2016/17', '2017/18', '2018/19', '2019/20']
MONTHS = ['Oct', 'Nov', 'Dec', 'Jan', 'Feb', 'Mar']

# ============================ STYLE ============================
sns.set_theme(style="ticks")
plt.rcParams.update({
    'font.family': ['Liberation Sans', 'DejaVu Sans'],
    'font.weight': 'bold',
    'mathtext.default': 'regular',
    'axes.unicode_minus': False,
    'axes.edgecolor': 'black',
    'xtick.color': 'black', 'ytick.color': 'black',
    'text.color': 'black',
    'axes.facecolor': 'white',
})

BLUE, BAND, EDGE = '#0000ff', '#e6e6e6', '#9a9a9a'
COLORS = {'Redhaven': 'black', 'Cresthaven': '#ff0000',
          'Sierra Rich': '#228b22', 'Suncrest': '#ff8c00'}

TEMP = {
    '2016/17': (T16_MEAN_DAY, T16_MEAN, T16_UP_DAY, T16_UP, T16_LO_DAY, T16_LO),
    '2017/18': (T17_MEAN_DAY, T17_MEAN, T17_UP_DAY, T17_UP, REG_DAY, T17_LO),
    '2018/19': (T18_MEAN_DAY, T18_MEAN, T18_UP_DAY, T18_UP, REG_DAY, T18_LO),
    '2019/20': (T19_MEAN_DAY, T19_MEAN, T19_UP_DAY, T19_UP, T19_LO_DAY, T19_LO),
}
LT = {'2016/17': (LT16_DAY, LT16), '2017/18': (LT17_DAY, LT17),
      '2018/19': (LT18_DAY, LT18), '2019/20': (LT19_DAY, LT19)}
DOTS = {('2016/17', 'Redhaven'): (RH16_DAY, RH16),
        ('2016/17', 'Sierra Rich'): (SR16_DAY, SR16),
        ('2017/18', 'Suncrest'): (SC17_DAY, SC17),
        ('2018/19', 'Suncrest'): (SC18_DAY, SC18),
        ('2019/20', 'Redhaven'): (RH19_DAY, RH19),
        ('2019/20', 'Cresthaven'): (CH19_DAY, CH19),
        ('2019/20', 'Sierra Rich'): (SR19_DAY, SR19),
        ('2019/20', 'Suncrest'): (SC19_DAY, SC19)}
ZERO_DASH = {'2016/17': (102, 114), '2018/19': (89.5, 99), '2019/20': (89, 92)}

# ============================ FIGURE ============================
FW, FH = 1183, 1113
fig = plt.figure(figsize=(FW / 100, FH / 100), dpi=100)


def fbox(x0, y0, x1, y1):
    return [x0 / FW, 1 - y1 / FH, (x1 - x0) / FW, (y1 - y0) / FH]


def fx(x):
    return np.asarray(x) / FW


def fy(y):
    return 1 - np.asarray(y) / FH


COL_X = [77, 343, 610, 879]
ROW_Y = [53, 304, 555, 807]
PW, PH = 244, 230
XT = list(range(0, 181, 30))
YT = list(range(-30, 31, 10))


def draw_panel(r, c, xlab=False, ylab=None):
    season, cult = SEASONS[r], CULTIVARS[c]
    col = COLORS[cult]
    ax = fig.add_axes(fbox(COL_X[c], ROW_Y[r], COL_X[c] + PW, ROW_Y[r] + PH))
    md, m, ud, u, ld, lo = TEMP[season]
    ax.fill(np.r_[ud, ld[::-1]], np.r_[u, lo[::-1]], color=BAND, lw=0, zorder=1)
    sns.lineplot(x=ud, y=u, ax=ax, color=EDGE, lw=0.8, estimator=None, sort=False, zorder=2)
    sns.lineplot(x=ld, y=lo, ax=ax, color=EDGE, lw=0.8, estimator=None, sort=False, zorder=2)
    sns.lineplot(x=md, y=m, ax=ax, color=BLUE, lw=0.8, estimator=None, sort=False, zorder=3)
    if season in ZERO_DASH:
        ax.plot(ZERO_DASH[season], [0, 0], color='0.15', lw=0.9, ls=(0, (1.2, 1.2)), zorder=3)
    d, v = LT[season]
    sns.lineplot(x=d, y=v, ax=ax, color=col, lw=0.8, estimator=None, sort=False, zorder=4)
    if (season, cult) in DOTS:
        dd, dv = DOTS[(season, cult)]
        sns.scatterplot(x=dd, y=dv, ax=ax, color=col, s=30, linewidth=0, zorder=5)
    ax.barh(y=-30.6, width=BAR_END[season] + 2, left=-2, height=3.6,
            color='black', zorder=6, clip_on=False)
    ax.set_xlim(0, 184)
    ax.set_ylim(-32.5, 32.5)
    ax.set_xticks(XT)
    ax.set_yticks(YT)
    ax.set_xticklabels([str(t) for t in XT] if xlab else [])
    # only the tick labels that stay visible are written
    ax.set_yticklabels([str(t) if (ylab is not None and ylab[0] <= t <= ylab[1]) else ''
                        for t in YT])
    ax.tick_params(direction='out', length=3.5, width=0.9, labelsize=12.5, pad=3)
    ax.tick_params(axis='x', pad=5)
    for s in ax.spines.values():
        s.set_linewidth(1.1)
        s.set_color('black')
    ax.set_xlabel('')
    ax.set_ylabel('')
    return ax


ax00 = draw_panel(0, 0, ylab=(-10, 30))
ax01 = draw_panel(0, 1)
draw_panel(0, 2)
draw_panel(0, 3)
draw_panel(1, 3)
draw_panel(2, 3)
ax30 = draw_panel(3, 0, xlab=True, ylab=(-30, -10))
draw_panel(3, 1, xlab=True)
draw_panel(3, 2, xlab=True)
draw_panel(3, 3, xlab=True)

# thick dashed guide in the first two top panels
for a in (ax00, ax01):
    a.plot([58.6, 184], [5.9, 5.9], color='black', lw=2.3, ls=(0, (2.2, 1.6)),
           zorder=7, solid_capstyle='butt')
for x0, x1 in ((320, 343), (585, 611)):
    fig.add_artist(Line2D([fx(x0), fx(x1)], [fy(148), fy(148)], color='black',
                          lw=2.3, transform=fig.transFigure, zorder=4))

# month names inside the bottom-left panel
for d, name in zip([15, 44, 74, 104, 134, 164], MONTHS):
    ax30.text(d, -27.9, name, ha='center', va='center', fontsize=13.5,
              fontweight='normal', zorder=8)

# small black fragments near the top-left panels
fig.add_artist(Rectangle((fx(57), fy(197)), 12 / FW, 5 / FH, color='black',
                         transform=fig.transFigure, zorder=4))
fig.add_artist(Polygon([(fx(72), fy(194)), (fx(77), fy(194)), (fx(77), fy(177))],
                       closed=True, color='black', transform=fig.transFigure, zorder=4))
fig.add_artist(Rectangle((fx(336), fy(215)), 6 / FW, 27 / FH, color='black',
                         transform=fig.transFigure, zorder=4))

# column titles with underlines
TITLE_X = [199, 459, 728, 997]
UL = [(92, 308), (354, 570), (623, 840), (891, 1107)]
for name, tx, (u0, u1) in zip(CULTIVARS, TITLE_X, UL):
    fig.text(fx(tx), fy(27), '\u2018' + name + '\u2019', ha='center', va='center',
             fontsize=20.5, fontweight='bold')
    fig.add_artist(Line2D([fx(u0), fx(u1)], [fy(42.5), fy(42.5)], color='black',
                          lw=2.3, transform=fig.transFigure))

# season labels on the right
for season, yc, (l0, l1) in zip(SEASONS, [164, 416, 670, 927],
                                 [(67, 268), (322, 523), (569, 770), (835, 1037)]):
    fig.text(fx(1167), fy(yc), season, rotation=90, ha='center', va='center',
             fontsize=20.5, fontweight='bold')
    fig.add_artist(Line2D([fx(1138), fx(1138)], [fy(l0), fy(l1)], color='black',
                          lw=2.3, transform=fig.transFigure))

# small y-axis labels on the left
fig.text(fx(31), fy(117), 'Ambient T', rotation=90, ha='center', va='center', fontsize=17)
fig.text(fx(56), fy(117), '(\u00baC)', rotation=90, ha='center', va='center', fontsize=17)
fig.text(fx(30), fy(196), 'C)', rotation=90, ha='center', va='top', fontsize=17)
fig.text(fx(30), fy(991), 'LT$_{50}$ (\u00baC)', rotation=90, ha='center', va='center', fontsize=17)

# x-axis label
fig.text(fx(610), fy(1097), 'Days post October 1$^{st}$', ha='center', va='center',
         fontsize=20, fontweight='bold')

# ------------------ white cover + enlarged panel ------------------
fig.add_artist(Rectangle((0, fy(940)), 891 / FW, 725 / FH, facecolor='white',
                         edgecolor='none', transform=fig.transFigure, zorder=5))

axi = fig.add_axes(fbox(192, 242, 852, 903))
axi.set_zorder(10)
axi.fill(np.r_[INS_UP_DAY, INS_LO_DAY[::-1]], np.r_[INS_UP, INS_LO[::-1]],
         color=BAND, lw=0, zorder=1)
sns.lineplot(x=INS_UP_DAY, y=INS_UP, ax=axi, color=EDGE, lw=1.0, estimator=None, sort=False, zorder=2)
sns.lineplot(x=INS_LO_DAY, y=INS_LO, ax=axi, color=EDGE, lw=1.0, estimator=None, sort=False, zorder=2)
sns.lineplot(x=INS_MEAN_DAY, y=INS_MEAN, ax=axi, color=BLUE, lw=1.1, estimator=None, sort=False, zorder=3)
axi.plot([89.5, 99.3], [0, 0], color='black', lw=2.2, ls=(0, (1.8, 1.4)), zorder=3)
sns.lineplot(x=INS_LT_DAY, y=INS_LT, ax=axi, color='black', lw=0.9, estimator=None, sort=False, zorder=4)
sns.scatterplot(x=INS_DOT_DAY, y=INS_DOT, ax=axi, color='black', s=125, linewidth=0, zorder=5)
axi.barh(y=-30.05, width=INS_BAR_END, left=0, height=2.9, color='black', zorder=6)
axi.add_patch(Ellipse((95.7, -21.3), width=39.9, height=21, fill=False,
                      edgecolor='#ff0000', lw=1.9, zorder=8, clip_on=False))
axi.text(24.8, -25.5, 'Endo', ha='center', va='center', fontsize=32, fontweight='normal', zorder=9)
axi.text(166.6, -25.5, 'Eco', ha='center', va='center', fontsize=31, fontweight='normal', zorder=9)
axi.set_xlim(0, 184.2)
axi.set_ylim(-32, 32)
axi.set_xticks(XT)
axi.set_xticklabels([])
axi.set_yticks(YT)
axi.set_yticklabels([str(t) for t in YT])
axi.tick_params(direction='out', length=9, width=2.4, labelsize=29.5, pad=2)
for s in axi.spines.values():
    s.set_linewidth(3)
    s.set_color('black')
axi.set_xlabel('')
axi.set_ylabel('')

fig.text(fx(66), fy(560), 'LT$_{50}$ (\u00baC)  Ambient T (\u00baC)', rotation=90,
         ha='center', va='center', fontsize=43, fontweight='bold', zorder=12)

# red spell-check squiggles under the two "ºC"
for y0, y1 in ((238, 292), (654, 706)):
    ys = np.linspace(y0, y1, 28)
    xs = 92 + 2.2 * np.where(np.arange(28) % 2 == 0, 1, -1)
    fig.add_artist(Line2D(fx(xs), fy(ys), color='#ff0000', lw=1.0,
                          transform=fig.transFigure, zorder=12))

fig.savefig('out.png', dpi=100)
